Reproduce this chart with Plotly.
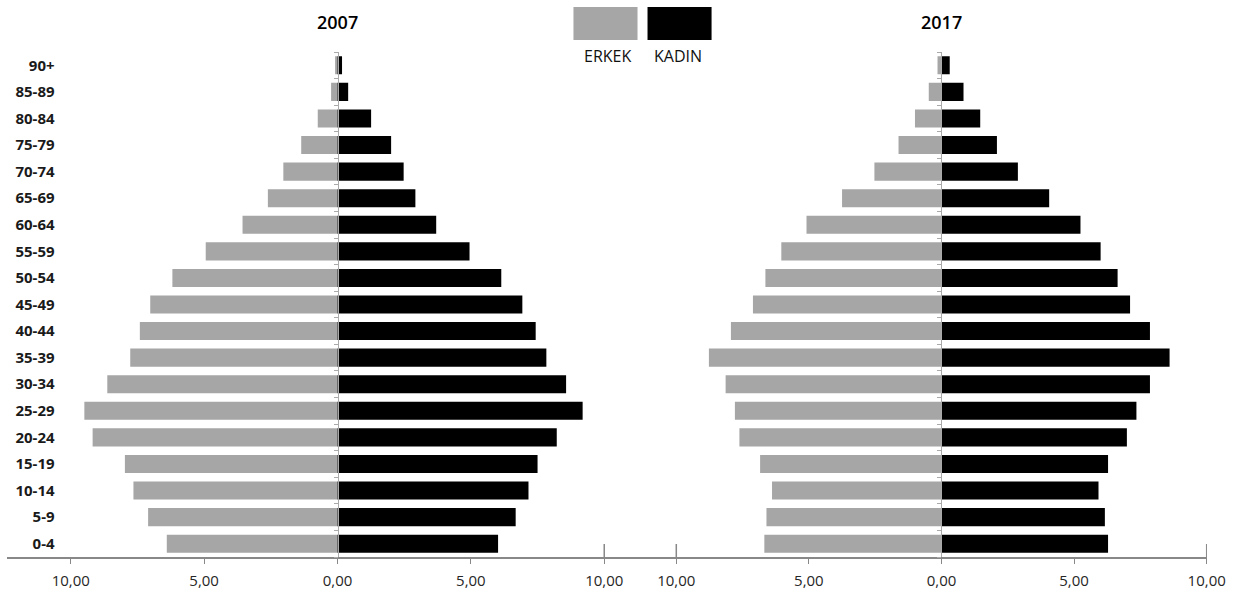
import plotly.graph_objects as go

# ---- data ----
age_groups = ["0-4", "5-9", "10-14", "15-19", "20-24", "25-29", "30-34", "35-39",
              "40-44", "45-49", "50-54", "55-59", "60-64", "65-69", "70-74",
              "75-79", "80-84", "85-89", "90+"]

erkek_2007 = [6.40, 7.10, 7.65, 7.97, 9.18, 9.49, 8.63, 7.77, 7.41, 7.02,
              6.19, 4.94, 3.56, 2.61, 2.03, 1.36, 0.74, 0.24, 0.09]
kadin_2007 = [6.02, 6.68, 7.16, 7.50, 8.22, 9.19, 8.57, 7.83, 7.43, 6.93,
              6.14, 4.95, 3.70, 2.92, 2.48, 2.01, 1.26, 0.40, 0.17]
erkek_2017 = [6.68, 6.60, 6.39, 6.84, 7.62, 7.79, 8.14, 8.77, 7.94, 7.11,
              6.64, 6.04, 5.09, 3.75, 2.53, 1.62, 1.00, 0.48, 0.15]
kadin_2017 = [6.28, 6.16, 5.92, 6.28, 6.99, 7.35, 7.86, 8.60, 7.86, 7.11,
              6.64, 6.00, 5.24, 4.06, 2.88, 2.09, 1.46, 0.83, 0.31]

years = ["2007", "2017"]
series_names = ["ERKEK", "KADIN"]
tick_vals = [-10, -5, 0, 5, 10]
tick_text = ["10,00", "5,00", "0,00", "5,00", "10,00"]

GRAY = "#a6a6a6"
BLACK = "#000000"
REF_W, H = 1240, 596
FIG_W = 1260

def px_x(p):
    return p / REF_W

def px_y(p):
    return 1 - p / H

fig = go.Figure()

for (er, ka, xa, ya) in [(erkek_2007, kadin_2007, "x", "y"),
                         (erkek_2017, kadin_2017, "x2", "y2")]:
    fig.add_trace(go.Bar(y=age_groups, x=[-v for v in er], orientation="h",
                         marker=dict(color=GRAY, line=dict(width=0)),
                         name=series_names[0], xaxis=xa, yaxis=ya,
                         showlegend=False))
    fig.add_trace(go.Bar(y=age_groups, x=ka, orientation="h",
                         marker=dict(color=BLACK, line=dict(width=0)),
                         name=series_names[1], xaxis=xa, yaxis=ya,
                         showlegend=False))

ydom = [px_y(557), px_y(52)]
axis_font = dict(family="Open Sans", size=15, color="#262626")

common_x = dict(tickmode="array", tickvals=tick_vals, ticktext=tick_text,
                ticks="outside", ticklen=5, tickcolor="#888888", tickwidth=1,
                showline=True, linecolor="#888888", linewidth=1.5,
                showgrid=False, zeroline=False, tickfont=axis_font,
                ticklabelstandoff=4, fixedrange=True)
common_y = dict(type="category", categoryorder="array", categoryarray=age_groups,
                range=[-0.5, len(age_groups) - 0.5], domain=ydom, anchor="free",
                showline=True, linecolor="#aaaaaa", linewidth=1,
                ticks="outside", ticklen=4, tickcolor="#aaaaaa", tickson="boundaries",
                showgrid=False, zeroline=False, fixedrange=True)

fig.update_layout(
    width=FIG_W, height=H,
    margin=dict(l=0, r=0, t=0, b=0),
    paper_bgcolor="white", plot_bgcolor="white",
    barmode="relative", bargap=0.32,
    xaxis=dict(domain=[px_x(7), px_x(636)], range=[-12.39, 11.21], anchor="y", **common_x),
    xaxis2=dict(domain=[px_x(636), px_x(1206)], range=[-11.50, 10.01], anchor="y2", **common_x),
    yaxis=dict(position=px_x(337.3), showticklabels=True,
               tickfont=dict(family="Open Sans", size=15, color="#1a1a1a", weight="bold"),
               ticklabelstandoff=int(276 * FIG_W / REF_W), **common_y),
    yaxis2=dict(position=px_x(940.7), showticklabels=False, **common_y),
    showlegend=False,
)

# taller separator ticks at the axis ends
shapes = []
for xr, xv in [("x", 10), ("x2", -10), ("x2", 10)]:
    shapes.append(dict(type="line", xref=xr, yref="paper", x0=xv, x1=xv,
                       y0=px_y(557), y1=px_y(544), line=dict(color="#888888", width=1.5)))
# legend swatches
shapes.append(dict(type="rect", xref="paper", yref="paper", x0=px_x(573), x1=px_x(637),
                   y0=px_y(40), y1=px_y(7), fillcolor=GRAY, line=dict(width=0)))
shapes.append(dict(type="rect", xref="paper", yref="paper", x0=px_x(647), x1=px_x(711),
                   y0=px_y(40), y1=px_y(7), fillcolor=BLACK, line=dict(width=0)))
fig.update_layout(shapes=shapes)

annotations = []
for yr, xc in zip(years, [337.3, 940.7]):
    annotations.append(dict(text=yr, xref="paper", yref="paper", x=px_x(xc), y=px_y(22),
                            showarrow=False, xanchor="center", yanchor="middle",
                            font=dict(family="Open Sans", size=18, color="#000000",
                                      weight=600)))
for nm, xc in zip(series_names, [607, 677]):
    annotations.append(dict(text=nm, xref="paper", yref="paper", x=px_x(xc), y=px_y(56),
                            showarrow=False, xanchor="center", yanchor="middle",
                            font=dict(family="Open Sans", size=16, color="#111111")))
fig.update_layout(annotations=annotations)

fig.write_html(
    "out.html",
    config={"displayModeBar": False, "responsive": False},
    post_script=("document.body.style.margin='0px';"
                 "document.body.style.overflow='hidden';"
                 "document.documentElement.style.overflow='hidden';"),
)
